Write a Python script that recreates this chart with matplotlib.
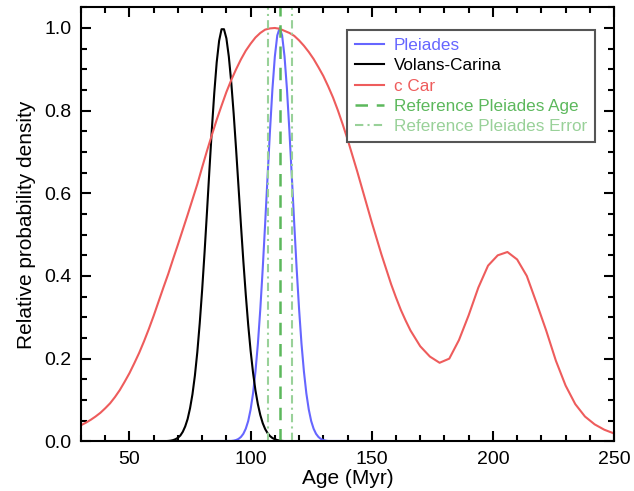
import numpy as np
import matplotlib
matplotlib.use('Agg')
import matplotlib.pyplot as plt
from matplotlib.ticker import MultipleLocator

plt.rcParams['font.family'] = ['Liberation Sans', 'DejaVu Sans']

# Volans-Carina age distribution (1 Myr steps)
vc_age = [30] + list(range(64, 117)) + [250]
vc_pdf = [0.0,
          0.0002, 0.0005, 0.0009, 0.0016, 0.0029, 0.0051, 0.0086, 0.014, 0.023, 0.036,
          0.054, 0.080, 0.114, 0.159, 0.216, 0.286, 0.367, 0.458, 0.556, 0.657,
          0.755, 0.843, 0.917, 0.969, 0.997, 0.997, 0.975, 0.931, 0.869, 0.793,
          0.707, 0.616, 0.524, 0.436, 0.355, 0.282, 0.219, 0.166, 0.123, 0.0895,
          0.0635, 0.0439, 0.0297, 0.0197, 0.0127, 0.0080, 0.0050, 0.0030, 0.0018, 0.0010,
          0.0005, 0.0003, 0.0001,
          0.0]

# Pleiades age distribution
pl_age = [30] + list(range(92, 133)) + [250]
pl_pdf = [0.0,
          0.0008, 0.0016, 0.0031, 0.0058, 0.0105, 0.0182, 0.0305, 0.049, 0.077, 0.116,
          0.169, 0.236, 0.320, 0.418, 0.527, 0.641, 0.752, 0.852, 0.931, 0.982,
          1.0,
          0.982, 0.931, 0.852, 0.752, 0.641, 0.527, 0.418, 0.320, 0.236, 0.169,
          0.116, 0.077, 0.049, 0.0305, 0.0182, 0.0105, 0.0058, 0.0031, 0.0016, 0.0008,
          0.0]

# c Car age distribution (2 Myr steps up to 166, then 4 Myr)
cc_age = list(range(30, 166, 2)) + list(range(166, 251, 4))
cc_pdf = [0.039, 0.045, 0.052, 0.060, 0.069, 0.080, 0.092, 0.107, 0.124, 0.144,
          0.165, 0.189, 0.214, 0.242, 0.272, 0.304, 0.338, 0.372, 0.405, 0.441,
          0.476, 0.512, 0.548, 0.585, 0.622, 0.663, 0.703, 0.741, 0.778, 0.812,
          0.845, 0.874, 0.900, 0.924, 0.945, 0.962, 0.977, 0.988, 0.996, 0.999,
          1.0, 0.998, 0.993, 0.988, 0.981, 0.970, 0.957, 0.942, 0.925, 0.905,
          0.884, 0.859, 0.832, 0.801, 0.767, 0.731, 0.692, 0.653, 0.612, 0.571,
          0.530, 0.491, 0.452, 0.416, 0.380, 0.348, 0.318, 0.292,
          0.268, 0.230, 0.205, 0.190, 0.200, 0.245, 0.305, 0.372, 0.425, 0.450,
          0.458, 0.440, 0.400, 0.335, 0.268, 0.195, 0.135, 0.090, 0.060, 0.041,
          0.028, 0.019]

ref_age = 112
ref_err = 5

fig = plt.figure(figsize=(6.34, 4.91), dpi=100)
ax = fig.add_axes([0.1278, 0.1012, 0.8407, 0.8839])

ax.plot(pl_age, pl_pdf, color='#6666ff', lw=1.5, label='Pleiades')
ax.plot(vc_age, vc_pdf, color='black', lw=1.5, label='Volans-Carina')
ax.plot(cc_age, cc_pdf, color='#ee5c5c', lw=1.5, label='c Car')
ax.axvline(ref_age, color='#5cb85c', lw=1.8, ls=(0, (5, 3.5)), label='Reference Pleiades Age')
ax.axvline(ref_age - ref_err, color='#99d199', lw=1.5, ls=(0, (4, 2, 1, 2)),
           label='Reference Pleiades Error')
ax.axvline(ref_age + ref_err, color='#99d199', lw=1.5, ls=(0, (4, 2, 1, 2)))

ax.set_xlim(30, 250)
ax.set_ylim(0, 1.05)
ax.xaxis.set_major_locator(MultipleLocator(50))
ax.xaxis.set_minor_locator(MultipleLocator(10))
ax.yaxis.set_major_locator(MultipleLocator(0.2))
ax.yaxis.set_minor_locator(MultipleLocator(0.05))
ax.tick_params(which='both', direction='in', top=True, right=True, width=1.5, labelsize=14)
ax.tick_params(which='major', length=7, pad=7)
ax.tick_params(which='minor', length=4)
for s in ax.spines.values():
    s.set_linewidth(1.5)

ax.set_xlabel('Age (Myr)', fontsize=15, labelpad=1)
ax.set_ylabel('Relative probability density', fontsize=15, labelpad=6)

leg = ax.legend(loc='upper right', bbox_to_anchor=(0.964, 0.948), borderaxespad=0,
                fontsize=12.3, fancybox=False, framealpha=1, edgecolor='#555555',
                handlelength=1.7, handletextpad=0.6, borderpad=0.45, labelspacing=0.32)
leg.get_frame().set_linewidth(1.5)
for txt, line in zip(leg.get_texts(), leg.get_lines()):
    txt.set_color(line.get_color())

fig.savefig('out.png', dpi=100)
